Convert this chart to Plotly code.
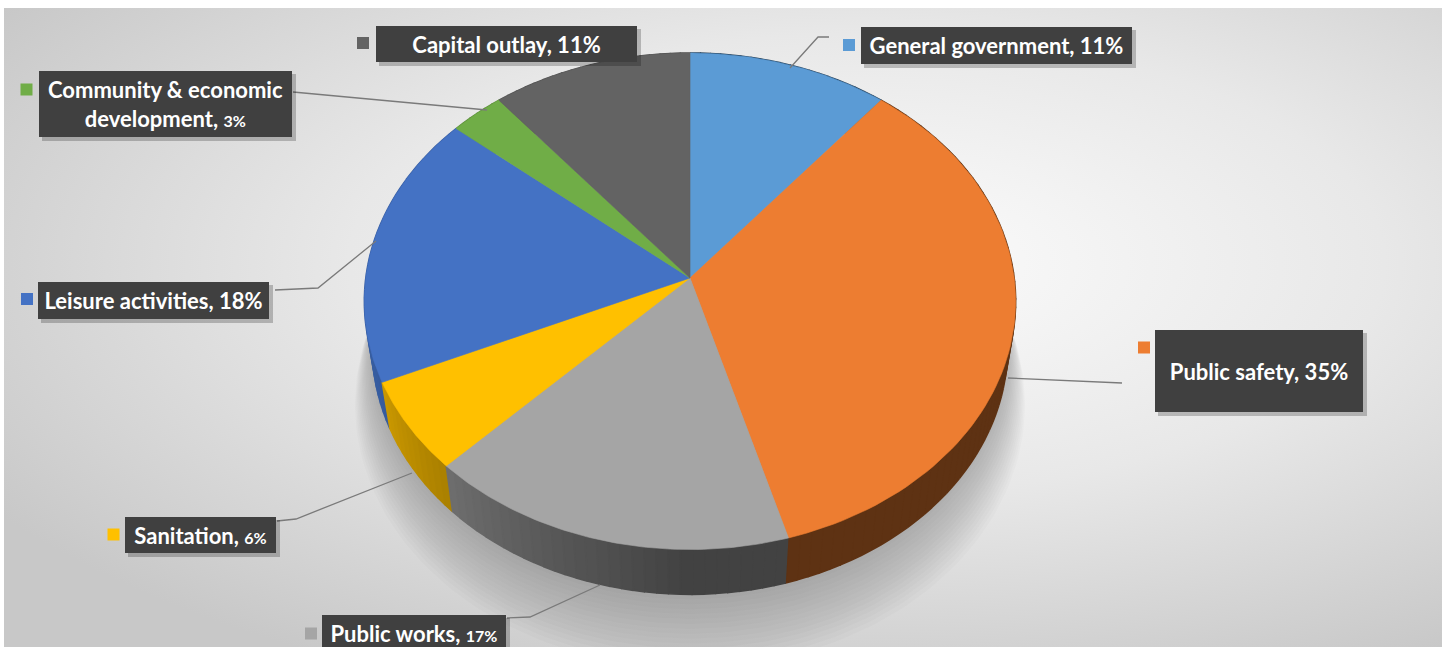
import base64
import numpy as np
import plotly.graph_objects as go

# ---------------- data ----------------
categories = ["General government", "Public safety", "Public works", "Sanitation",
              "Leisure activities", "Community & economic development", "Capital outlay"]
values = [11, 35, 17, 6, 18, 3, 11]
pct_labels = ["11%", "35%", "17%", "6%", "18%", "3%", "11%"]
colors = ["#5B9BD5", "#ED7D31", "#A5A5A5", "#FFC000", "#4472C4", "#70AD47", "#636363"]

# ---------------- 3D pie projection (layout parameters) ----------------
W, HT = 1442, 647
CX, CY = 690, 278
F, D, CA, SA = 2250.0, 6.94, 0.651, 0.759
THICK = 0.23


def proj(theta, r=1.0, y3=0.0):
    x3 = r * np.sin(theta)
    z3 = r * np.cos(theta)
    ycam = y3 * CA + z3 * SA
    zcam = D + z3 * CA - y3 * SA
    return CX + F * x3 / zcam, CY - F * ycam / zcam


def shade(hexcol, k):
    h = hexcol.lstrip("#")
    r, g, b = (int(h[i:i + 2], 16) for i in (0, 2, 4))
    return "rgb(%d,%d,%d)" % (r * k, g * k, b * k)


def wall_factor(deg):
    if deg <= 180:
        return 0.40
    return 0.40 + min((deg - 180) / 70.0, 1.0) * 0.42


total = float(sum(values))
bounds = np.concatenate([[0.0], np.cumsum(values) / total * 2 * np.pi])

fig = go.Figure()

# soft shadow under the pie
tt = np.linspace(0, 2 * np.pi, 240)
for k in range(16):
    sx, sy = proj(tt, r=1.0 + 0.005 * k, y3=-THICK - 0.012 * k)
    fig.add_trace(go.Scatter(x=sx, y=sy + 1.2 * k, mode="lines", fill="toself",
                             fillcolor="rgba(0,0,0,0.016)", line=dict(width=0),
                             hoverinfo="skip", showlegend=False))

# outer walls, split into small segments and drawn far-to-near
segments = []
for i in range(len(values)):
    a0, a1 = bounds[i], bounds[i + 1]
    n = max(2, int(np.ceil((a1 - a0) / np.radians(2))))
    edges = np.linspace(a0, a1, n + 1)
    for j in range(n):
        s0, s1 = edges[j], edges[j + 1]
        segments.append((np.cos((s0 + s1) / 2), i, s0, s1))
segments.sort(key=lambda s: -s[0])
for _, i, s0, s1 in segments:
    th = np.linspace(s0, s1, 4)
    tx, ty = proj(th)
    bx, by = proj(th[::-1], y3=-THICK)
    deg = np.degrees((s0 + s1) / 2)
    col = shade(colors[i], wall_factor(deg))
    fig.add_trace(go.Scatter(x=np.concatenate([tx, bx]), y=np.concatenate([ty, by]),
                             mode="lines", fill="toself", fillcolor=col,
                             line=dict(width=1.6, color=col),
                             hoverinfo="skip", showlegend=False))

# top faces
for i in range(len(values)):
    th = np.linspace(bounds[i], bounds[i + 1], 80)
    ax, ay = proj(th)
    fig.add_trace(go.Scatter(x=np.concatenate([[CX], ax, [CX]]),
                             y=np.concatenate([[CY], ay, [CY]]),
                             mode="lines", fill="toself", fillcolor=colors[i],
                             line=dict(width=0.6, color=colors[i]),
                             name=categories[i], hoverinfo="name", showlegend=False))

# ---------------- labels (layout) ----------------
boxes = [  # cx, cy, w, h
    (996.5, 45.5, 271, 37),
    (1259, 371, 208, 82),
    (414, 633, 184, 36),
    (200.5, 535, 151, 36),
    (153.5, 300.5, 231, 37),
    (165.5, 104, 253, 66),
    (506.5, 44, 261, 36),
]
keys = [(849, 45), (1144, 347.5), (311, 633.5), (113.5, 534.5), (27, 299), (26.5, 89.5), (363, 43)]
leaders = [
    [(790, 68), (818, 37), (829, 37)],
    [(1008, 378), (1122, 383)],
    [(600, 585), (530, 617), (507, 618)],
    [(412, 473), (296, 519), (277, 521)],
    [(376, 241), (318, 288), (275, 290)],
    [(487, 110), (293, 92)],
    None,
]
small_pct = [False, False, True, True, False, True, False]
name_text = ["General government", "Public safety", "Public works", "Sanitation",
             "Leisure activities", "Community & economic<br>development", "Capital outlay"]

for pts in leaders:
    if pts is None:
        continue
    fig.add_trace(go.Scatter(x=[p[0] for p in pts], y=[p[1] for p in pts], mode="lines",
                             line=dict(color="#7a7a7a", width=1.3),
                             hoverinfo="skip", showlegend=False))

fig.add_trace(go.Scatter(x=[k[0] for k in keys], y=[k[1] for k in keys], mode="markers",
                         marker=dict(symbol="square", size=12, color=colors, line=dict(width=0)),
                         hoverinfo="skip", showlegend=False))

shapes = []
annotations = []
for i, (bxc, byc, bw, bh) in enumerate(boxes):
    shapes.append(dict(type="rect", xref="x", yref="y",
                       x0=bxc - bw / 2 + 3, x1=bxc + bw / 2 + 4,
                       y0=byc - bh / 2 + 3, y1=byc + bh / 2 + 4,
                       fillcolor="rgba(0,0,0,0.22)", line=dict(width=0), layer="above"))
    pct = pct_labels[i]
    if small_pct[i]:
        pct = '<span style="font-size:16px">%s</span>' % pct
    annotations.append(dict(x=bxc, y=byc, xref="x", yref="y", showarrow=False,
                            text="%s, %s" % (name_text[i], pct),
                            width=bw, height=bh, bgcolor="#404040", borderwidth=0, borderpad=0,
                            align="center", valign="middle",
                            font=dict(family="Lato", size=22, color="white", weight="bold")))

# background radial gradient
svg = ('<svg xmlns="http://www.w3.org/2000/svg" width="1438" height="639" '
       'preserveAspectRatio="none"><defs><radialGradient id="g" cx="0.6" cy="0.4" r="0.72">'
       '<stop offset="0" stop-color="#fcfcfc"/><stop offset="0.5" stop-color="#e8e8e8"/>'
       '<stop offset="1" stop-color="#c8c8c8"/></radialGradient></defs>'
       '<rect width="1438" height="639" fill="url(#g)"/></svg>')
src = "data:image/svg+xml;base64," + base64.b64encode(svg.encode()).decode()

fig.update_layout(
    width=W, height=HT, margin=dict(l=0, r=0, t=0, b=0),
    paper_bgcolor="white", plot_bgcolor="rgba(0,0,0,0)",
    xaxis=dict(range=[0, W], visible=False, fixedrange=True),
    yaxis=dict(range=[HT, 0], visible=False, fixedrange=True),
    shapes=shapes, annotations=annotations,
    images=[dict(source=src, xref="x", yref="y", x=4, y=8, sizex=1438, sizey=639,
                 sizing="stretch", layer="below", xanchor="left", yanchor="top")],
    showlegend=False,
)

fig.write_html("out.html")
